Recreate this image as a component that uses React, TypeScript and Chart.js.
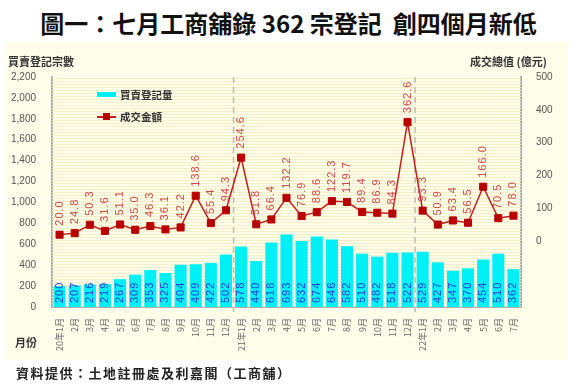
import React, { useEffect, useRef } from "react";
import { Chart, registerables } from "chart.js";

Chart.register(...registerables);

const months = [
  "20年1月", "2月", "3月", "4月", "5月", "6月", "7月", "8月", "9月", "10月", "11月", "12月",
  "21年1月", "2月", "3月", "4月", "5月", "6月", "7月", "8月", "9月", "10月", "11月", "12月",
  "22年1月", "2月", "3月", "4月", "5月", "6月", "7月",
];
const registrations = [
  200, 207, 216, 219, 267, 309, 353, 325, 404, 409, 422, 502,
  578, 440, 618, 693, 632, 674, 646, 582, 510, 482, 518, 522,
  529, 427, 347, 370, 454, 510, 362,
];
const amounts = [
  20.0, 24.8, 50.3, 31.6, 51.1, 35.0, 46.3, 36.1, 42.2, 138.6, 55.4, 94.3,
  254.6, 51.8, 66.4, 132.2, 76.9, 88.6, 122.3, 119.7, 89.4, 86.9, 84.3, 362.6,
  93.3, 50.9, 63.4, 56.5, 166.0, 70.5, 78.0,
];
const yearBreaks = [12, 24];

const CJK = '"Noto Sans CJK TC", "Noto Sans CJK SC", sans-serif';
const LAT = '"Liberation Sans", Arial, sans-serif';

export default function App() {
  const ref = useRef<HTMLCanvasElement | null>(null);

  useEffect(() => {
    if (!ref.current) return;
    const stripes = {
      id: "stripes",
      beforeDatasetsDraw(chart: any) {
        const { ctx, chartArea } = chart;
        ctx.save();
        ctx.fillStyle = "#f4efc6";
        for (let y = chartArea.top + 1; y < chartArea.bottom; y += 3) {
          ctx.fillRect(chartArea.left, y, chartArea.right - chartArea.left, 1);
        }
        const xs = chart.scales.x;
        ctx.strokeStyle = "#bdbdb5";
        ctx.lineWidth = 1.5;
        ctx.setLineDash([6, 4]);
        yearBreaks.forEach((b) => {
          const x = (xs.getPixelForValue(b - 1) + xs.getPixelForValue(b)) / 2;
          ctx.beginPath();
          ctx.moveTo(x, chartArea.top);
          ctx.lineTo(x, chartArea.bottom + 5);
          ctx.stroke();
        });
        ctx.restore();
      },
    };
    const labels = {
      id: "vlabels",
      afterDatasetsDraw(chart: any) {
        const { ctx, chartArea } = chart;
        ctx.save();
        ctx.font = "11px " + LAT;
        try { (ctx as any).letterSpacing = "1px"; } catch (e) {}
        ctx.textAlign = "left";
        ctx.textBaseline = "middle";
        chart.getDatasetMeta(0).data.forEach((el: any, i: number) => {
          ctx.save();
          ctx.translate(el.x, chartArea.bottom - 4);
          ctx.rotate(-Math.PI / 2);
          ctx.fillStyle = "#2b3fd8";
          ctx.fillText(String(registrations[i]), 0, 0);
          ctx.restore();
        });
        chart.getDatasetMeta(1).data.forEach((el: any, i: number) => {
          ctx.save();
          ctx.translate(el.x, el.y - 9);
          ctx.rotate(-Math.PI / 2);
          ctx.fillStyle = "#d24848";
          ctx.fillText(amounts[i].toFixed(1), 0, 0);
          ctx.restore();
        });
        ctx.restore();
      },
    };

    const chart = new Chart(ref.current, {
      type: "bar",
      data: {
        labels: months,
        datasets: [
          {
            type: "bar",
            label: "買賣登記量",
            data: registrations,
            backgroundColor: "#00f0f8",
            yAxisID: "y",
            barPercentage: 0.8,
            categoryPercentage: 1,
            order: 2,
          } as any,
          {
            type: "line",
            label: "成交金額",
            data: amounts,
            borderColor: "#c41e1e",
            borderWidth: 1.5,
            pointStyle: "rect",
            pointRadius: 5,
            pointBackgroundColor: "#b80000",
            pointBorderColor: "#b80000",
            pointBorderWidth: 1,
            yAxisID: "y1",
            order: 1,
          } as any,
        ],
      },
      options: {
        responsive: false,
        animation: false,
        layout: { padding: { top: 77, left: 0, right: 0, bottom: 0 } },
        plugins: { legend: { display: false }, tooltip: { enabled: false } },
        scales: {
          x: {
            grid: { display: false },
            border: { color: "#b0b0a8", width: 2 },
            ticks: {
              autoSkip: false,
              minRotation: 90,
              maxRotation: 90,
              color: "#666",
              font: { size: 9, family: CJK },
              padding: 3,
            },
            afterFit(s: any) { s.height = 80; },
          },
          y: {
            position: "left",
            min: 0,
            max: 2200,
            grid: { display: false },
            border: { color: "#b0b0a8", width: 2 },
            ticks: {
              stepSize: 200,
              color: "#555",
              font: { size: 10, family: LAT },
              padding: 8,
              callback: (v: any) => Number(v).toLocaleString("en-US"),
            },
            afterFit(s: any) { s.width = 52; },
          },
          y1: {
            position: "right",
            min: -200,
            max: 500,
            grid: { display: false },
            border: { color: "#b0b0a8", width: 2 },
            ticks: {
              stepSize: 100,
              color: "#555",
              font: { size: 10, family: LAT },
              padding: 7,
              callback: (v: any) => (Number(v) < 0 ? "" : String(v)),
            },
            afterFit(s: any) { s.width = 56; },
          },
        },
      } as any,
      plugins: [stripes, labels],
    });
    return () => chart.destroy();
  }, []);

  const abs = (o: any) => ({ position: "absolute" as const, ...o });

  return (
    <div style={abs({ left: 0, top: 0, width: 577, height: 387, background: "#fff", overflow: "hidden" })}>
      <div style={abs({ left: 0, top: 8, width: 577, textAlign: "center", fontFamily: CJK, fontWeight: 700, fontSize: 24, lineHeight: "30px", color: "#111" })}>
        圖一：七月工商舖錄 362 宗登記&nbsp;&nbsp;創四個月新低
      </div>
      <div style={abs({ left: 5, top: 42, width: 563, height: 318, background: "#fefde9" })} />
      <canvas ref={ref} width={577} height={387} style={abs({ left: 0, top: 0, width: 577, height: 387 })} />
      <div style={abs({ left: 8, top: 53, fontFamily: CJK, fontWeight: 700, fontSize: 11, color: "#333", lineHeight: "16px" })}>買賣登記宗數</div>
      <div style={abs({ left: 470, top: 53, fontFamily: CJK, fontWeight: 700, fontSize: 11, color: "#333", lineHeight: "16px" })}>成交總值 (億元)</div>
      <div style={abs({ left: 15, top: 334, fontFamily: CJK, fontWeight: 700, fontSize: 11, color: "#333", lineHeight: "16px" })}>月份</div>
      <div style={abs({ left: 97, top: 92, width: 19, height: 5, background: "#00f0f8" })} />
      <div style={abs({ left: 120, top: 87, fontFamily: CJK, fontWeight: 700, fontSize: 10.5, color: "#333", lineHeight: "16px" })}>買賣登記量</div>
      <div style={abs({ left: 97, top: 116, width: 19, height: 1.5, background: "#c41e1e" })} />
      <div style={abs({ left: 103, top: 113, width: 7, height: 7, background: "#b80000" })} />
      <div style={abs({ left: 120, top: 109, fontFamily: CJK, fontWeight: 700, fontSize: 10.5, color: "#333", lineHeight: "16px" })}>成交金額</div>
      <div style={abs({ left: 16, top: 363, fontFamily: CJK, fontWeight: 700, fontSize: 13, letterSpacing: "1.5px", color: "#222", lineHeight: "20px" })}>
        資料提供：土地註冊處及利嘉閣（工商舖）
      </div>
    </div>
  );
}
